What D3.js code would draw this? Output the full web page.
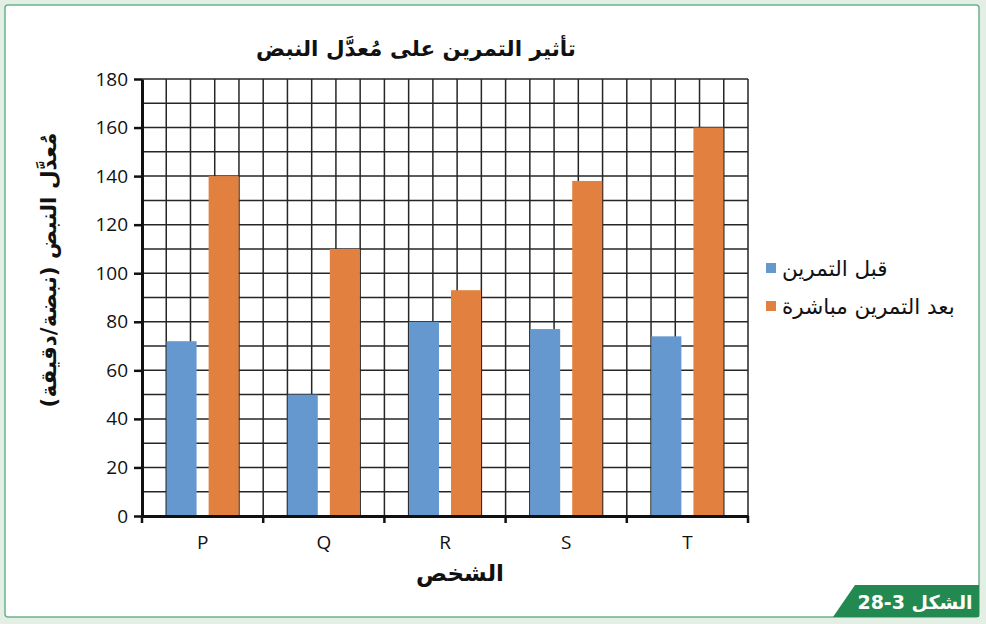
<!DOCTYPE html>
<html>
<head>
<meta charset="utf-8">
<script src="https://cdn.jsdelivr.net/npm/d3@7"></script>
<style>
  body { margin: 0; background: #e3efe5; }
  svg { display: block; }
</style>
</head>
<body>
<svg width="986" height="624"></svg>
<script>
// data
const people = ['P', 'Q', 'R', 'S', 'T'];
const seriesNames = ['قبل التمرين', 'بعد التمرين مباشرة'];
const beforeValues = [72, 50, 80, 77, 74];
const afterValues = [140, 110, 93, 138, 160];
const yTicks = [0, 20, 40, 60, 80, 100, 120, 140, 160, 180];
const colors = ['#6698d0', '#e2813f'];

const svg = d3.select('svg');
const arFont = 'DejaVu Sans';
const numFont = 'Open Sans';

// frame
svg.append('rect')
   .attr('x', 5).attr('y', 5)
   .attr('width', 974).attr('height', 612)
   .attr('rx', 3)
   .style('fill', 'white')
   .style('stroke', '#6cb388')
   .style('stroke-width', '1.5px');

const margin = {left: 142, top: 79};
const width = 606;
const height = 437;

const g = svg.append('g')
             .attr('transform', `translate(${margin.left}, ${margin.top})`);

const x0 = d3.scaleBand().domain(people).range([0, width]).padding(0);
const x1 = d3.scaleBand().domain([0, 1]).range([0, x0.bandwidth()])
             .paddingInner(0.286).paddingOuter(0.583);
const y = d3.scaleLinear().domain([0, 180]).range([height, 0]);

// grid: horizontal every 10, vertical 25 columns
g.append('g').selectAll('line')
 .data(d3.range(10, 181, 10))
 .enter().append('line')
 .attr('x1', 0).attr('x2', width)
 .attr('y1', d => y(d)).attr('y2', d => y(d))
 .style('stroke', '#262626').style('stroke-width', '1.5px');

const cols = d3.scaleLinear().domain([0, 25]).range([0, width]);
g.append('g').selectAll('line')
 .data(d3.range(1, 26))
 .enter().append('line')
 .attr('x1', d => cols(d)).attr('x2', d => cols(d))
 .attr('y1', 0).attr('y2', height)
 .style('stroke', '#262626').style('stroke-width', '1.5px');

// bars
const table = people.map((p, i) => ({p: p, vals: [beforeValues[i], afterValues[i]]}));

const groups = g.selectAll('.personGroup')
                .data(table)
                .enter().append('g')
                .classed('personGroup', true)
                .attr('transform', d => `translate(${x0(d.p)}, 0)`);

groups.selectAll('rect')
      .data(d => d.vals.map((v, i) => ({i: i, v: v})))
      .enter().append('rect')
      .attr('x', d => x1(d.i))
      .attr('width', x1.bandwidth())
      .attr('y', d => y(d.v))
      .attr('height', d => height - y(d.v))
      .style('fill', d => colors[d.i]);

// axes
const yAxis = g.append('g')
               .call(d3.axisLeft(y).tickValues(yTicks).tickSize(8).tickPadding(6).tickSizeOuter(0));
yAxis.select('.domain').style('stroke', '#111').style('stroke-width', '3px');
yAxis.selectAll('.tick line').style('stroke', '#111').style('stroke-width', '2.5px');
yAxis.selectAll('.tick text')
     .style('font-family', numFont).style('font-size', '19px').style('fill', '#111');

const xAxis = g.append('g')
               .attr('transform', `translate(0, ${height})`)
               .call(d3.axisBottom(x0).tickSize(0).tickPadding(20).tickSizeOuter(0));
xAxis.select('.domain').style('stroke', '#111').style('stroke-width', '3px');
xAxis.selectAll('.tick text')
     .style('font-family', numFont).style('font-size', '19px').style('fill', '#111');

// tick marks at band edges
g.append('g').selectAll('line')
 .data(d3.range(0, people.length + 1))
 .enter().append('line')
 .attr('x1', d => d * x0.step()).attr('x2', d => d * x0.step())
 .attr('y1', height).attr('y2', height + 7)
 .style('stroke', '#111').style('stroke-width', '2.5px');

// titles
svg.append('text')
   .text('تأثير التمرين على مُعدَّل النبض')
   .attr('x', 416).attr('y', 56)
   .style('text-anchor', 'middle')
   .style('font-family', arFont).style('font-weight', 'bold')
   .style('font-size', '21.5px').style('fill', '#111');

svg.append('text')
   .text('مُعدَّل النبض (نبضة/دقيقة)')
   .attr('transform', 'translate(56, 270) rotate(-90)')
   .style('text-anchor', 'middle')
   .style('font-family', arFont).style('font-weight', 'bold')
   .style('font-size', '21.5px').style('fill', '#111');

svg.append('text')
   .text('الشخص')
   .attr('x', 460).attr('y', 581)
   .style('text-anchor', 'middle')
   .style('font-family', arFont).style('font-weight', 'bold')
   .style('font-size', '23px').style('fill', '#111');

// legend
const leg = svg.append('g').attr('transform', 'translate(766, 263)');
const legItems = leg.selectAll('g')
                    .data(seriesNames)
                    .enter().append('g')
                    .attr('transform', (d, i) => `translate(0, ${i * 38})`);
legItems.append('rect')
        .attr('width', 10).attr('height', 10)
        .style('fill', (d, i) => colors[i]);
legItems.append('text')
        .text(d => d)
        .attr('x', 16).attr('y', 13)
        .style('text-anchor', 'start')
        .style('font-family', arFont)
        .style('font-size', '21.5px').style('fill', '#111');

// figure label
svg.append('path')
   .attr('d', 'M855,585 L979,585 L979,617 L833,617 Z')
   .style('fill', '#228a50');
svg.append('text')
   .text('الشكل 3-28')
   .attr('x', 915).attr('y', 609)
   .style('text-anchor', 'middle')
   .style('font-family', arFont).style('font-weight', 'bold')
   .style('font-size', '19px').style('fill', 'white');
</script>
</body>
</html>
